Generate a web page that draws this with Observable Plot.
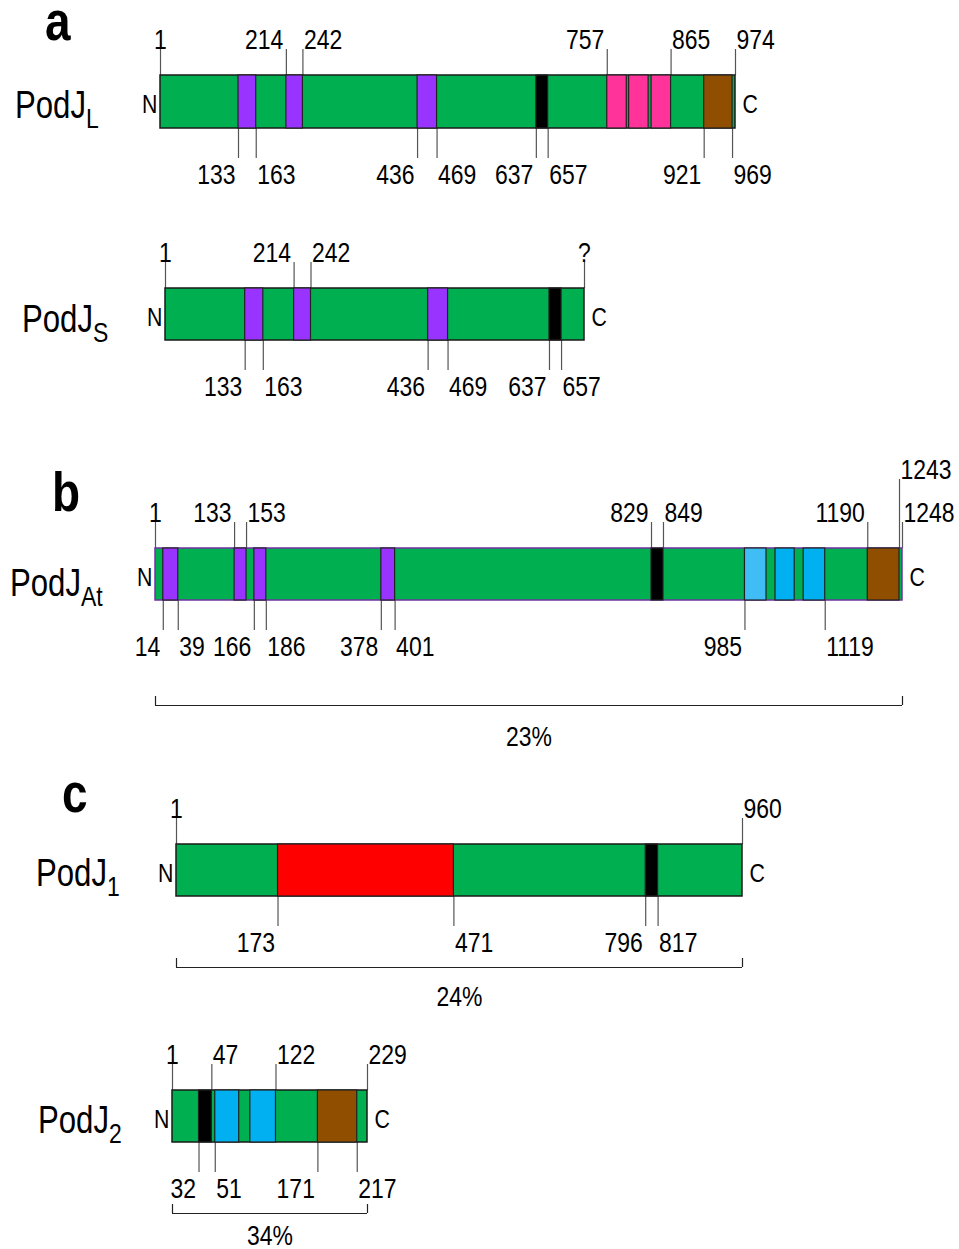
<!DOCTYPE html>
<html><head><meta charset="utf-8">
<script src="https://cdn.jsdelivr.net/npm/d3@7"></script>
<script src="https://cdn.jsdelivr.net/npm/@observablehq/plot@0.6"></script>
<style>
body{margin:0;background:#fff}
#fig{position:relative;width:959px;height:1249px;overflow:hidden;font-family:"Liberation Sans",Arial,sans-serif;color:#000}
.panel{position:absolute;left:0}
.letter{position:absolute;font-weight:bold;font-size:56px;line-height:0.7;transform:scaleX(0.82);transform-origin:0 0}
.name{position:absolute;font-size:38px;line-height:1;white-space:nowrap;transform:scaleX(0.82);transform-origin:0 0}
.name sub{font-size:28px;vertical-align:-10px;line-height:0}
</style></head><body><div id="fig"></div>
<script>
// ---------------- data ----------------
const proteinNames = [["PodJ","L"],["PodJ","S"],["PodJ","At"],["PodJ","1"],["PodJ","2"]];
const panelLetters = ["a","b","c"];

const lengthL = 974;
const domainsL = [
  {start:133,end:163,type:"violetBox"},{start:214,end:242,type:"violetBox"},{start:436,end:469,type:"violetBox"},
  {start:637,end:657,type:"tmBox"},
  {start:757,end:790,type:"pinkRepeat"},{start:794,end:827,type:"pinkRepeat"},{start:832,end:865,type:"pinkRepeat"},
  {start:921,end:969,type:"brownBox"}
];
const topL = [1,214,242,757,865,974];
const bottomL = [133,163,436,469,637,657,921,969];

const lengthS = 695; // C-terminus unknown ("?")
const domainsS = [
  {start:133,end:163,type:"violetBox"},{start:214,end:242,type:"violetBox"},{start:436,end:469,type:"violetBox"},
  {start:637,end:657,type:"tmBox"}
];
const topS = [1,214,242,"?"];
const bottomS = [133,163,436,469,637,657];

const lengthAt = 1248;
const domainsAt = [
  {start:14,end:39,type:"violetBox"},{start:133,end:153,type:"violetBox"},{start:166,end:186,type:"violetBox"},{start:378,end:401,type:"violetBox"},
  {start:829,end:849,type:"tmBox"},
  {start:985,end:1021,type:"cyanLight"},{start:1036,end:1068,type:"cyanRepeat"},{start:1083,end:1119,type:"cyanRepeat"},
  {start:1190,end:1243,type:"brownBox"}
];
const topAt = [1,133,153,829,849,1190,1248,1243];
const bottomAt = [14,39,166,186,378,401,985,1119];
const identityAt = "23%";

const length1 = 960;
const domains1 = [{start:173,end:471,type:"redBox"},{start:796,end:817,type:"tmBox"}];
const top1 = [1,960];
const bottom1 = [173,471,796,817];
const identity1 = "24%";

const length2 = 229;
const domains2 = [
  {start:32,end:47,type:"tmBox"},{start:51,end:79,type:"cyanRepeat"},{start:92,end:122,type:"cyanRepeat"},
  {start:171,end:217,type:"brownBox"}
];
const top2 = [1,47,122,229];
const bottom2 = [32,51,171,217];
const identity2 = "34%";

const domainTypes = ["violetBox","tmBox","pinkRepeat","brownBox","redBox","cyanLight","cyanRepeat"];
const domainColors = ["#9933FF","#000000","#FF3399","#8F4E00","#FF0000","#40BDF5","#00B0F0"];

// ---------------- layout (pixels) ----------------
const FONT = '"Liberation Sans",Arial,sans-serif';
const tracks = [
  {len:lengthL, domains:domainsL, top:topL, bottom:bottomL, band:[0,215],    x:[160,735], bar:[75,128],  outline:"#1a1a1a"},
  {len:lengthS, domains:domainsS, top:topS, bottom:bottomS, band:[215,425],  x:[165,584], bar:[288,340], outline:"#1a1a1a"},
  {len:lengthAt,domains:domainsAt,top:topAt,bottom:bottomAt,band:[425,765],  x:[155,902], bar:[548,600], outline:"#7030A0", bracket:705, pct:745, pctText:identityAt},
  {len:length1, domains:domains1, top:top1, bottom:bottom1, band:[765,1025], x:[176,742], bar:[844,896], outline:"#1a1a1a", bracket:967, pct:1005, pctText:identity1},
  {len:length2, domains:domains2, top:top2, bottom:bottom2, band:[1025,1249],x:[172,367], bar:[1090,1142],outline:"#1a1a1a", bracket:1213, pct:1244, pctText:identity2}
];
const nameLayout = [[15,118],[22,332],[10,596],[36,886],[38,1133]];
const letterLayout = [[45,40],[52,511],[62,812]];

const NUM = 28, SQUEEZE = 0.82, ROW0 = 27, ROW1 = 70, TICK_B = 30, BASE_B = 55, CHAR_W = 0.556*NUM*SQUEEZE;
const baselineOffset = (fs, lh) => ((lh - 1.117) / 2 + 0.905) * fs;

function condense(svg, s) {
  svg.querySelectorAll("text").forEach(el => {
    const x = +el.getAttribute("x") || 0, y = +el.getAttribute("y") || 0;
    const tr = el.getAttribute("transform") || "";
    el.setAttribute("transform", `${tr} translate(${x},${y}) scale(${s},1) translate(${-x},${-y})`.trim());
  });
}

const fig = document.getElementById("fig");

tracks.forEach((t, i) => {
  const barH = t.bar[1] - t.bar[0];
  const H = t.band[1] - t.band[0];
  const up = px => 1 + px / barH;      // px above bar top
  const down = px => -px / barH;       // px below bar bottom
  const xs = Plot.scale({x:{domain:[1,t.len], range:t.x}});
  const isStart = v => t.domains.some(d => d.start === v);
  const anchorOf = v => (v === 1 || v === "?") ? "middle" : isStart(v) ? "end" : "start";
  const mk = v => ({pos: v === "?" ? t.len : v, text: String(v), anchor: anchorOf(v)});
  const dxOf = a => a === "end" ? -3 : a === "start" ? 1 : 0;
  const extent = l => {
    const px = xs.apply(l.pos) + dxOf(l.anchor), w = l.text.length * CHAR_W;
    return l.anchor === "end" ? [px - w, px] : l.anchor === "start" ? [px, px + w] : [px - w/2, px + w/2];
  };
  const hit = (e, o) => !(e[1] + 2 < o[0] || e[0] - 2 > o[1]);
  // top labels: greedy row assignment to avoid overlap
  const rows = [[], []];
  const topLabels = t.top.map(mk).map(l => {
    const e = extent(l);
    let r = 0;
    while (r < 1 && rows[r].some(o => hit(e, o))) r++;
    rows[r].push(e);
    return {...l, row: r};
  });
  // bottom labels: flip anchor to the right side on collision
  const placed = [];
  const bottomLabels = t.bottom.map(mk).map(l => {
    let e = extent(l);
    if (placed.some(o => hit(e, o))) { l = {...l, anchor:"start"}; e = extent(l); }
    placed.push(e);
    return l;
  });

  const textMarks = [];
  for (const a of ["start","middle","end"]) {
    textMarks.push(Plot.text(topLabels.filter(d => d.anchor === a), {
      x:"pos", y: d => up(d.row ? ROW1 : ROW0), text:"text", textAnchor:a, lineAnchor:"bottom",
      dx: dxOf(a), fontSize:NUM, fontFamily:FONT, fill:"#000"}));
    textMarks.push(Plot.text(bottomLabels.filter(d => d.anchor === a), {
      x:"pos", y: down(BASE_B), text:"text", textAnchor:a, lineAnchor:"bottom",
      dx: dxOf(a), fontSize:NUM, fontFamily:FONT, fill:"#000"}));
  }

  const marks = [
    Plot.ruleX(topLabels, {x:"pos", y1:1, y2: d => up((d.row ? ROW1 : ROW0) - 1), stroke:"#555", strokeWidth:1.2}),
    Plot.ruleX(bottomLabels, {x:"pos", y1:0, y2:down(TICK_B), stroke:"#555", strokeWidth:1.2}),
    Plot.rect([t], {x1:1, x2:d => d.len, y1:0, y2:1, fill:"#00B050", stroke:t.outline, strokeWidth:1.5}),
    Plot.rect(t.domains, {x1:"start", x2:"end", y1:0, y2:1, fill:"type", stroke:"#222", strokeWidth:1.2}),
    Plot.text(["N"], {x:1, y:0.5, text:d => d, textAnchor:"end", lineAnchor:"middle", dx:-3, dy:3, fontSize:26, fontFamily:FONT}),
    Plot.text(["C"], {x:t.len, y:0.5, text:d => d, textAnchor:"start", lineAnchor:"middle", dx:7, dy:3, fontSize:26, fontFamily:FONT}),
    ...textMarks
  ];
  if (t.bracket) {
    const yb = down(t.bracket - t.bar[1]);
    marks.push(
      Plot.ruleY([yb], {x1:1, x2:t.len, y:d => d, stroke:"#222", strokeWidth:1.2}),
      Plot.ruleX([1, t.len], {x:d => d, y1:yb, y2:yb + 9/barH, stroke:"#222", strokeWidth:1.2}),
      Plot.text([t.pctText], {x:(1 + t.len)/2, y:down(t.pct - t.bar[1]), text:d => d, textAnchor:"middle", lineAnchor:"bottom", fontSize:NUM, fontFamily:FONT})
    );
  }
  const chart = Plot.plot({
    width:959, height:H, margin:0,
    x:{domain:[1,t.len], range:t.x, axis:null},
    y:{domain:[0,1], range:[t.bar[1]-t.band[0], t.bar[0]-t.band[0]], axis:null},
    color:{domain:domainTypes, range:domainColors},
    style:{background:"transparent", overflow:"visible"},
    marks
  });
  condense(chart, SQUEEZE);
  chart.classList.add("panel");
  chart.style.top = t.band[0] + "px";
  fig.appendChild(chart);

  const [nx, nb] = nameLayout[i];
  const nm = document.createElement("div");
  nm.className = "name";
  nm.style.left = nx + "px";
  nm.style.top = (nb - baselineOffset(38, 1)) + "px";
  nm.innerHTML = proteinNames[i][0] + "<sub>" + proteinNames[i][1] + "</sub>";
  fig.appendChild(nm);
});

panelLetters.forEach((l, i) => {
  const d = document.createElement("div");
  d.className = "letter";
  d.style.left = letterLayout[i][0] + "px";
  d.style.top = (letterLayout[i][1] - baselineOffset(56, 0.7)) + "px";
  d.textContent = l;
  fig.appendChild(d);
});
</script></body></html>
